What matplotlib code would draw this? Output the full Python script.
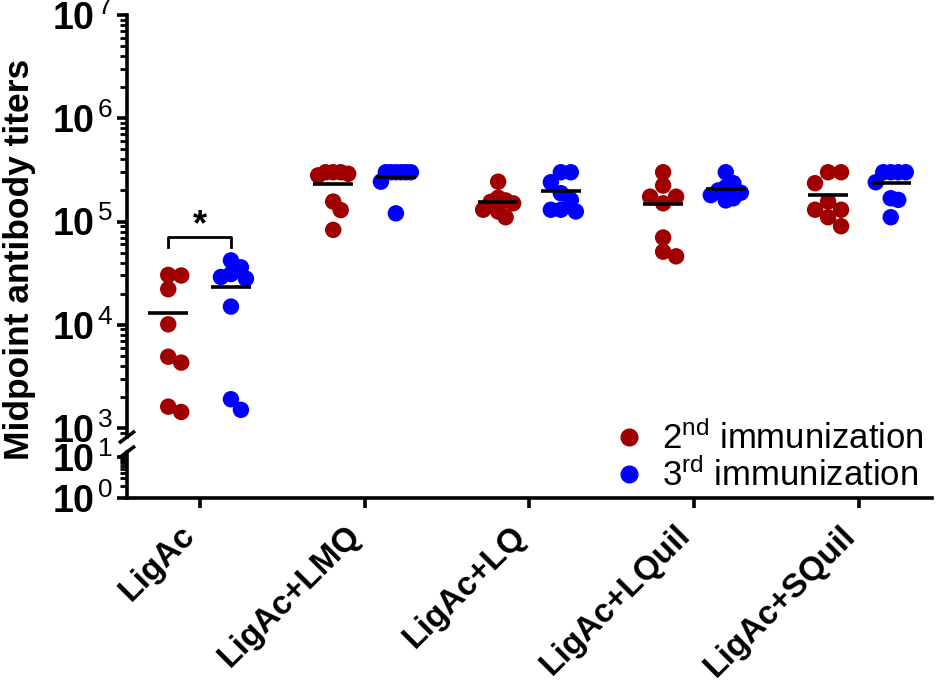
"""Midpoint antibody titers after 2nd and 3rd immunization, broken log axis."""

import numpy as np
import matplotlib
matplotlib.use('Agg')
import matplotlib.pyplot as plt
import matplotlib.transforms as mtransforms
from matplotlib.lines import Line2D

plt.rcParams['font.family'] = ['Liberation Sans', 'DejaVu Sans']
plt.rcParams['mathtext.fontset'] = 'custom'
plt.rcParams['mathtext.rm'] = 'Liberation Sans'
plt.rcParams['mathtext.bf'] = 'Liberation Sans:bold'
plt.rcParams['mathtext.it'] = 'Liberation Sans:italic'

# dados (8 animais por grupo)
grupos = ['LigAc', 'LigAc+LMQ', 'LigAc+LQ', 'LigAc+LQuil', 'LigAc+SQuil']

segunda = [
    [30400, 30000, 22100, 10100, 4900, 4300, 1610, 1430],
    [300000, 300000, 300000, 290000, 280000, 156000, 129000, 83000],
    [243000, 170000, 160000, 155000, 150000, 130000, 125000, 110000],
    [300000, 223000, 174000, 174000, 150000, 70000, 51000, 46000],
    [300000, 300000, 235000, 156000, 130000, 130000, 110000, 90000],
]
terceira = [
    [42000, 36000, 31000, 29000, 28000, 15000, 1900, 1500],
    [300000, 300000, 300000, 300000, 300000, 300000, 243000, 120000],
    [300000, 300000, 240000, 188000, 162000, 130000, 130000, 125000],
    [300000, 235000, 215000, 200000, 190000, 180000, 168000, 160000],
    [300000, 300000, 300000, 300000, 240000, 168000, 162000, 110000],
]
rotulos_legenda = ['2$^{\\mathrm{nd}}$ immunization', '3$^{\\mathrm{rd}}$ immunization']

cor_2 = '#a00000'
cor_3 = '#0000ff'

W, H = 945, 691
fig = plt.figure(figsize=(W / 100, H / 100), dpi=100)

esq, dir_ = 127 / W, 932 / W
ax = fig.add_axes([esq, 1 - 437 / H, dir_ - esq, (437 - 15) / H])
ax_b = fig.add_axes([esq, 1 - 498 / H, dir_ - esq, (498 - 452) / H])

for a in (ax, ax_b):
    a.set_xlim(-0.44, 4.44)
    a.spines['top'].set_visible(False)
    a.spines['right'].set_visible(False)
    a.spines['left'].set_linewidth(2.6)
    a.spines['bottom'].set_linewidth(2.6)
    a.set_yscale('log')
    a.tick_params(axis='y', which='major', length=7, width=2.6, labelsize=27, pad=3)
    a.tick_params(axis='y', which='minor', length=5, width=2.0)

ax.spines['bottom'].set_visible(False)
ax.tick_params(axis='x', bottom=False, labelbottom=False)
ax.set_ylim(10 ** 2.913, 1e7)
ax.set_yticks([1e3, 1e4, 1e5, 1e6, 1e7])
ax.set_yticklabels([f'$\\mathbf{{10}}^{{\\,{k}}}$' for k in range(3, 8)])

ax_b.set_ylim(1, 10 ** 1.12)
ax_b.set_yticks([1, 10])
ax_b.set_yticklabels([f'$\\mathbf{{10}}^{{\\,{k}}}$' for k in range(0, 2)])
ax_b.set_xticks(range(len(grupos)))
ax_b.set_xticklabels(grupos, rotation=45, ha='right', va='baseline', rotation_mode='anchor',
                     fontsize=24, fontweight='bold')
ax_b.tick_params(axis='x', length=7.5, width=2.6, pad=8)
# o fim da linha de base de cada rótulo fica logo abaixo do tick, como no original
desl = mtransforms.ScaledTranslation(-3 / 100, -17 / 100, fig.dpi_scale_trans)
for lbl in ax_b.get_xticklabels():
    lbl.set_transform(lbl.get_transform() + desl)

# marcas de quebra do eixo
dx = 8 / ((dir_ - esq) * W)
for a, hpx in ((ax, 422), (ax_b, 46)):
    for yy in ((0.0,) if a is ax else (1.0,)):
        dy = 6 / hpx
        a.plot([-dx, dx], [yy - dy, yy + dy], transform=a.transAxes,
               color='black', lw=2.6, clip_on=False, solid_capstyle='butt')


def enxame(xc, valores, passo_px, meia_largura_px):
    """Distribui os pontos lateralmente (estilo beeswarm), limitando a largura do grupo."""
    ordem = np.argsort(valores)[::-1]
    y_px = ax.transData.transform(np.column_stack([np.zeros(len(valores)), valores]))[:, 1]
    colocados = []
    xs = np.zeros(len(valores))
    for i in ordem:
        for k in range(0, 20):
            cands = [0] if k == 0 else [k, -k]
            ok = None
            for c in cands:
                off = c * passo_px / 2
                if all(np.hypot(off - ox, y_px[i] - oy) >= passo_px for ox, oy in colocados):
                    ok = off
                    break
            if ok is not None:
                break
        colocados.append((ok, y_px[i]))
        xs[i] = ok
    m = np.abs(xs).max()
    if m > meia_largura_px:
        xs = xs * meia_largura_px / m
    px_por_unidade = ax.transData.transform([[1, 1]])[0, 0] - ax.transData.transform([[0, 1]])[0, 0]
    return xc + xs / px_por_unidade


desloc = 0.19
for i, g in enumerate(grupos):
    for vals, cor, sinal in ((segunda[i], cor_2, -1), (terceira[i], cor_3, 1)):
        vals = np.array(vals, dtype=float)
        xc = i + sinal * desloc
        xs = enxame(xc, vals, 13.0, 15.0)
        ax.scatter(xs, vals, s=140, color=cor, edgecolors='none', zorder=3, clip_on=False)
        ax.hlines(vals.mean(), xc - 0.12, xc + 0.12, color='black', lw=2.6, zorder=4)

# significância LigAc 2a vs 3a
ax.plot([-desloc, -desloc, desloc, desloc], [57000, 71500, 71500, 57000],
        color='black', lw=2.0)
ax.text(0, 62000, '*', ha='center', va='bottom', fontsize=26, fontweight='bold')

fig.text(20 / W, 1 - 259 / H, 'Midpoint antibody titers', rotation=90,
         ha='center', va='center', fontsize=25.5, fontweight='bold')

handles = [Line2D([], [], marker='o', ls='none', color=c, markersize=12)
           for c in (cor_2, cor_3)]
fig.legend(handles, rotulos_legenda, loc='center right', bbox_to_anchor=(0.992, 1 - 457 / H),
           frameon=False, fontsize=25, handletextpad=0.45, labelspacing=0.05,
           borderaxespad=0, handlelength=1.0)

fig.savefig('out.png', dpi=100)
